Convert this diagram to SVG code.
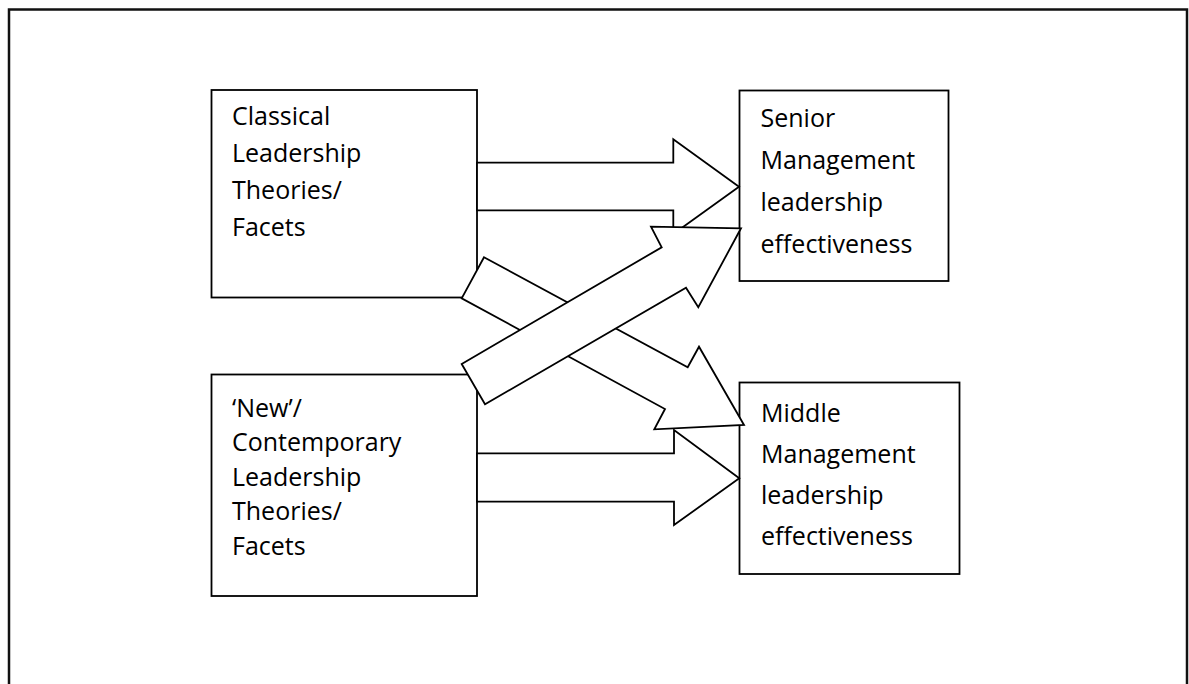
<svg xmlns="http://www.w3.org/2000/svg" width="1189" height="684" viewBox="0 0 1189 684">
  <style>
    .frame { fill: none; stroke: #111; stroke-width: 2.5; }
    .box { fill: #fff; stroke: #000; stroke-width: 1.8; }
    .arrow { fill: #fff; stroke: #000; stroke-width: 1.8; stroke-linejoin: miter; }
    .label { font-family: "Open Sans", "Noto Sans", sans-serif; font-size: 25px; fill: #000; }
  </style>
  <rect x="0" y="0" width="1189" height="684" fill="#fff"/>
  <!-- outer frame, bottom edge runs past the page -->
  <rect class="frame" x="9" y="9.5" width="1178" height="700"/>

  <g id="classical">
    <rect class="box" x="211.5" y="90" width="265.5" height="207.5"/>
    <text class="label" x="232" y="125">Classical</text>
    <text class="label" x="232" y="162">Leadership</text>
    <text class="label" x="232" y="199">Theories/</text>
    <text class="label" x="232" y="236">Facets</text>
  </g>

  <g id="contemporary">
    <rect class="box" x="211.5" y="374.5" width="265.5" height="221.5"/>
    <text class="label" x="232" y="416.5">‘New’/</text>
    <text class="label" x="232" y="451">Contemporary</text>
    <text class="label" x="232" y="485.5">Leadership</text>
    <text class="label" x="232" y="520">Theories/</text>
    <text class="label" x="232" y="554.5">Facets</text>
  </g>

  <g id="senior">
    <rect class="box" x="739.5" y="90.5" width="209" height="190.5"/>
    <text class="label" x="760.5" y="127">Senior</text>
    <text class="label" x="760.5" y="169">Management</text>
    <text class="label" x="760.5" y="211">leadership</text>
    <text class="label" x="760.5" y="253">effectiveness</text>
  </g>

  <g id="middle">
    <rect class="box" x="739.5" y="382.5" width="220" height="191.5"/>
    <text class="label" x="761" y="421.5">Middle</text>
    <text class="label" x="761" y="462.5">Management</text>
    <text class="label" x="761" y="503.5">leadership</text>
    <text class="label" x="761" y="544.5">effectiveness</text>
  </g>

  <g id="connectors">
    <!-- classical to senior -->
    <polygon class="arrow" points="477,162.7 673.3,162.7 673.3,139.3 739,186.7 673.3,234 673.3,210.3 477,210.3"/>
    <!-- contemporary to middle -->
    <polygon class="arrow" points="477,453.3 674,453.3 674,430 739.3,478.3 674,525 674,501.7 477,501.7"/>
    <!-- classical to middle (diagonal, down) -->
    <polygon class="arrow" points="484,257.3 687.7,367.3 699,346.7 744,425 654.3,429.3 665,409 461.7,298.3"/>
    <!-- contemporary to senior (diagonal, up) -->
    <polygon class="arrow" points="461.7,364 661.7,247.3 651,226.7 741,228.3 698.3,307.3 686,287.7 485,404.3"/>
  </g>
</svg>
